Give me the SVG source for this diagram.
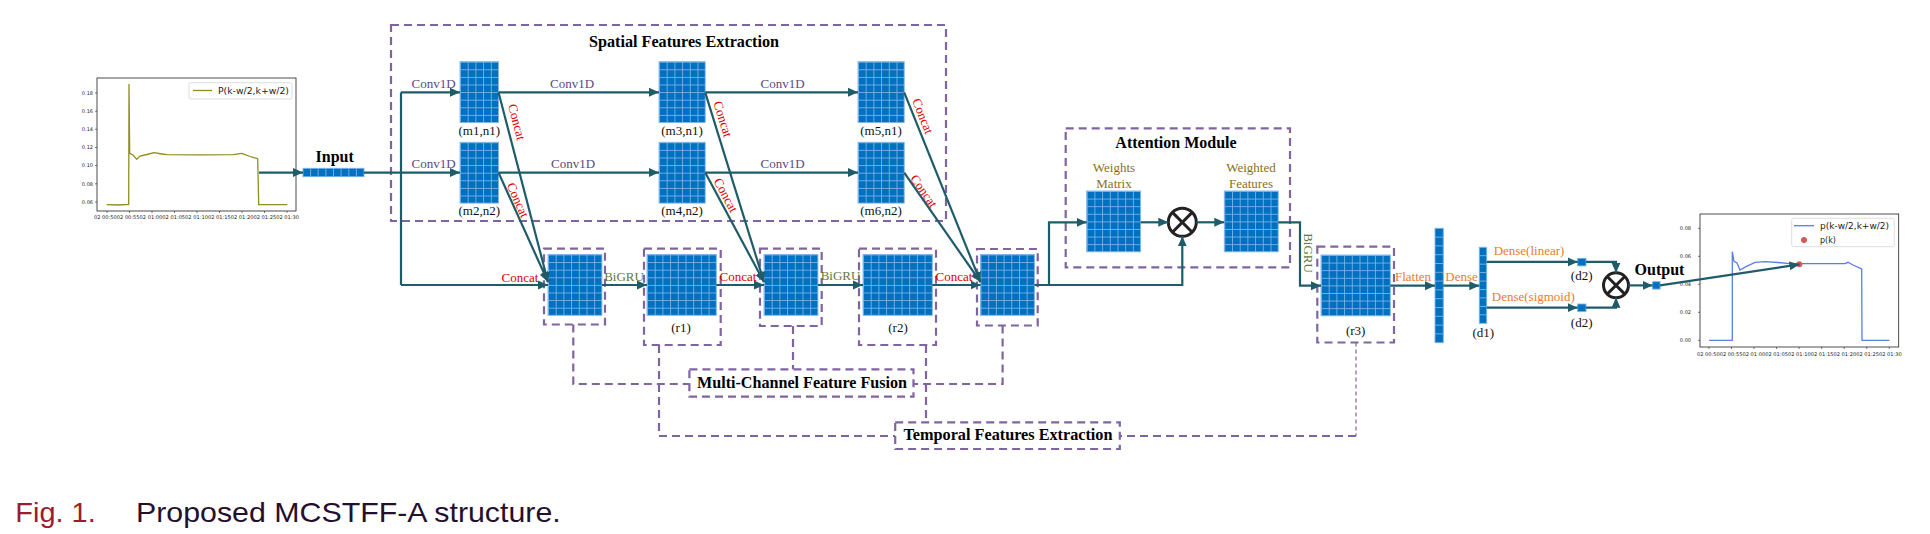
<svg xmlns="http://www.w3.org/2000/svg" width="1930" height="534" viewBox="0 0 1930 534">
<style>
.blk{fill:url(#grid);stroke:#7db4e6;stroke-width:0.9}
.strip{fill:#0070c0;stroke:#7db4e6;stroke-width:0.9}
.sl{stroke:#7db4e6;stroke-width:0.9;fill:none}
.cn{stroke:#1f5c6a;stroke-width:2.2;fill:none}
.ar{marker-end:url(#ah)}
.dsh{stroke:#8064a2;stroke-width:2.2;stroke-dasharray:8 5;fill:none}
.dthin{stroke:#8064a2;stroke-width:1.2;stroke-dasharray:4 3;fill:none}
.t{font-family:"Liberation Serif",serif;font-size:13px}
.b{font-family:"Liberation Serif",serif;font-size:16px;font-weight:bold;fill:#000}
.mid{text-anchor:middle}
.conv{fill:#584a82}
.red{fill:#e00000}
.gru{fill:#647a34}
.org{fill:#ee7b2e}
.gold{fill:#8a6f22}
.blk13{fill:#111}
.tick{font-family:"DejaVu Sans",sans-serif;font-size:5px;fill:#222}
.leg{font-family:"DejaVu Sans",sans-serif;font-size:8px;fill:#222}
.ax{fill:#fff;stroke:#222;stroke-width:0.8}
.tk{stroke:#222;stroke-width:0.6}
.otimes{fill:#fff;stroke:#222;stroke-width:3}
</style>
<defs>
<pattern id="grid" patternUnits="userSpaceOnUse" width="7.7" height="7.6">
<rect width="7.7" height="7.6" fill="#0070c0"/>
<path d="M0,0.45 H7.7 M0.45,0 V7.6" stroke="#7db4e6" stroke-width="0.9"/>
</pattern>
<marker id="ah" markerUnits="userSpaceOnUse" markerWidth="11" markerHeight="10" refX="10" refY="5" orient="auto">
<path d="M0,0.5 L10,5 L0,9.5 Z" fill="#1f5c6a"/>
</marker>
</defs>
<rect width="1930" height="534" fill="#fff"/>

<!-- Input chart -->
<g id="input-chart">
<rect class="ax" x="97" y="78" width="199" height="133"/>
<path class="tk" d="M95,93H97M95,111.2H97M95,129.3H97M95,147.5H97M95,165.6H97M95,183.8H97M95,202H97"/>
<g class="tick" text-anchor="end">
<text x="93" y="94.8">0.18</text><text x="93" y="113">0.16</text><text x="93" y="131.1">0.14</text><text x="93" y="149.3">0.12</text><text x="93" y="167.4">0.10</text><text x="93" y="185.6">0.08</text><text x="93" y="203.8">0.06</text>
</g>
<path class="tk" d="M107,211V213M129.5,211V213M152,211V213M174.5,211V213M197,211V213M219.5,211V213M242,211V213M264.5,211V213M287,211V213"/>
<text class="tick" x="94" y="219" font-size="5.5" textLength="205" lengthAdjust="spacingAndGlyphs">02 00:5002 00:5502 01:0002 01:0502 01:1002 01:1502 01:2002 01:2502 01:30</text>
<path d="M106.7,204.7 L118,205 L128.7,204.5 L129,84 L129.7,153.3 L133,155 L136.7,159.3 L140,156 L147,154.5 L154,152.7 L162,154 L167,154.7 L200,154.9 L233,154.7 L242,153.3 L250,156.5 L257.7,158.7 L258.7,204.7 L287.3,204.7" fill="none" stroke="#8f8e1f" stroke-width="1.3"/>
<rect x="189" y="82.7" width="103" height="16.3" rx="2" fill="#fff" stroke="#d0d0d0" stroke-width="0.7"/>
<path d="M193,90.5H212" stroke="#8f8e1f" stroke-width="1.3"/>
<text class="leg" x="218" y="93.8" textLength="71" lengthAdjust="spacingAndGlyphs">P(k-w/2,k+w/2)</text>
</g>

<g id="input">
<text class="b mid" x="334.7" y="161.7">Input</text>
<rect class="strip" x="303" y="168.3" width="61" height="8.4"/>
<path class="sl" d="M310.6,168.3V176.7M318.2,168.3V176.7M325.9,168.3V176.7M333.5,168.3V176.7M341.1,168.3V176.7M348.8,168.3V176.7M356.4,168.3V176.7"/>
</g>

<!-- Spatial features container -->
<g id="spatial-features">
<rect class="dsh" x="391" y="25" width="555" height="196"/>
<text class="b mid" x="684" y="46.7" textLength="190" lengthAdjust="spacingAndGlyphs">Spatial Features Extraction</text>
</g>

<g id="m1n1"><g transform="translate(460,61.7)"><rect class="blk" width="38.5" height="60.8"/></g><text class="t mid blk13" x="479.3" y="135">(m1,n1)</text></g>
<g id="m2n2"><g transform="translate(460,142.3)"><rect class="blk" width="38.5" height="60.8"/></g><text class="t mid blk13" x="479.3" y="215">(m2,n2)</text></g>
<g id="m3n1"><g transform="translate(659,61.7)"><rect class="blk" width="46.2" height="60.8"/></g><text class="t mid blk13" x="682" y="135">(m3,n1)</text></g>
<g id="m4n2"><g transform="translate(659,142.3)"><rect class="blk" width="46.2" height="60.8"/></g><text class="t mid blk13" x="682" y="215">(m4,n2)</text></g>
<g id="m5n1"><g transform="translate(858,61.7)"><rect class="blk" width="46.2" height="60.8"/></g><text class="t mid blk13" x="881" y="135">(m5,n1)</text></g>
<g id="m6n2"><g transform="translate(858,142.3)"><rect class="blk" width="46.2" height="60.8"/></g><text class="t mid blk13" x="881" y="215">(m6,n2)</text></g>

<g id="concat1"><rect class="dsh" x="544" y="248.7" width="61" height="75.8"/><g transform="translate(548,254.5)"><rect class="blk" width="53.9" height="60.8"/></g></g>
<g id="r1"><rect class="dsh" x="644" y="248.7" width="76.7" height="96.3"/><g transform="translate(647,254.5)"><rect class="blk" width="69.3" height="60.8"/></g><text class="t mid blk13" x="681" y="331.7">(r1)</text></g>
<g id="concat2"><rect class="dsh" x="760" y="248.7" width="61.7" height="77.3"/><g transform="translate(764,254.5)"><rect class="blk" width="53.9" height="60.8"/></g></g>
<g id="r2"><rect class="dsh" x="859" y="248.7" width="77" height="96.3"/><g transform="translate(863,254.5)"><rect class="blk" width="69.3" height="60.8"/></g><text class="t mid blk13" x="898" y="331.7">(r2)</text></g>
<g id="concat3"><rect class="dsh" x="977" y="249" width="60.7" height="76.5"/><g transform="translate(980.5,254.5)"><rect class="blk" width="53.9" height="60.8"/></g></g>

<!-- Attention module -->
<g id="attention-module">
<rect class="dsh" x="1065.7" y="128.3" width="224.3" height="139"/>
<text class="b mid" x="1176" y="148.3">Attention Module</text>
</g>
<g id="weights-matrix"><text class="t mid gold" x="1114" y="172.3">Weights</text><text class="t mid gold" x="1114" y="187.7">Matrix</text><g transform="translate(1086.7,191)"><rect class="blk" width="53.9" height="60.8"/></g></g>
<g id="multiply1"><circle class="otimes" cx="1182.3" cy="222.3" r="14"/><path d="M1172.4,212.4L1192.2,232.2M1192.2,212.4L1172.4,232.2" stroke="#222" stroke-width="3"/></g>
<g id="weighted-features"><text class="t mid gold" x="1251" y="172.3">Weighted</text><text class="t mid gold" x="1251" y="187.7">Features</text><g transform="translate(1224.3,191)"><rect class="blk" width="53.9" height="60.8"/></g></g>

<g id="r3"><rect class="dsh" x="1317.3" y="246.7" width="76.7" height="95.8"/><g transform="translate(1321,255)"><rect class="blk" width="69.3" height="60.8"/></g><text class="t mid blk13" x="1355.7" y="335">(r3)</text></g>

<g id="flatten"><rect class="strip" x="1435" y="228.3" width="8.3" height="114.4"/>
<path class="sl" d="M1435,237.1H1443.3M1435,245.9H1443.3M1435,254.7H1443.3M1435,263.5H1443.3M1435,272.3H1443.3M1435,281.1H1443.3M1435,289.9H1443.3M1435,298.7H1443.3M1435,307.5H1443.3M1435,316.3H1443.3M1435,325.1H1443.3M1435,333.9H1443.3"/></g>
<g id="d1"><rect class="strip" x="1479.3" y="247.3" width="7.4" height="76"/>
<path class="sl" d="M1479.3,255.7H1486.7M1479.3,264.2H1486.7M1479.3,272.6H1486.7M1479.3,281.1H1486.7M1479.3,289.5H1486.7M1479.3,297.9H1486.7M1479.3,306.4H1486.7M1479.3,314.8H1486.7"/>
<text class="t mid blk13" x="1483.3" y="336.7">(d1)</text></g>
<g id="d2-linear"><rect class="strip" x="1577.7" y="258.3" width="8.3" height="7.6"/><text class="t mid blk13" x="1581.7" y="280">(d2)</text></g>
<g id="d2-sigmoid"><rect class="strip" x="1577.7" y="304" width="8.3" height="7.6"/><text class="t mid blk13" x="1581.7" y="326.7">(d2)</text></g>
<g id="multiply2"><circle class="otimes" cx="1616" cy="285.3" r="12.5"/><path d="M1607.2,276.5L1624.8,294.1M1624.8,276.5L1607.2,294.1" stroke="#222" stroke-width="3"/></g>
<g id="output"><text class="b mid" x="1659.5" y="275">Output</text><rect class="strip" x="1652.6" y="281.7" width="7.5" height="7.4"/></g>

<!-- Output chart -->
<g id="output-chart">
<rect class="ax" x="1700" y="214" width="198.7" height="133"/>
<path class="tk" d="M1698,228.3H1700M1698,256.3H1700M1698,284.3H1700M1698,312.3H1700M1698,340.3H1700"/>
<g class="tick" text-anchor="end" font-size="4.6">
<text x="1691" y="229.9">0.08</text><text x="1691" y="257.9">0.06</text><text x="1691" y="285.9">0.04</text><text x="1691" y="313.9">0.02</text><text x="1691" y="341.9">0.00</text>
</g>
<path class="tk" d="M1709,347V349M1731.5,347V349M1754,347V349M1776.6,347V349M1799.1,347V349M1821.7,347V349M1844.2,347V349M1866.8,347V349M1889.3,347V349"/>
<text class="tick" x="1697" y="355.5" font-size="5.5" textLength="204.7" lengthAdjust="spacingAndGlyphs">02 00:5002 00:5502 01:0002 01:0502 01:1002 01:1502 01:2002 01:2502 01:30</text>
<path d="M1709,340.3 L1732.3,340.3 L1732.3,251.7 L1734,261.3 L1737,263 L1740,270 L1746,266.7 L1755,262.3 L1765,261.7 L1778,262.5 L1790,263.7 L1845,263.7 L1848,262.3 L1853,265 L1861.7,269 L1862,340.3 L1889.3,340.3" fill="none" stroke="#5a7ee6" stroke-width="1.3"/>
<circle cx="1799.3" cy="264.3" r="3" fill="#d45a5a"/>
<rect x="1791.7" y="218.3" width="102.6" height="28.4" rx="2" fill="#fff" stroke="#d0d0d0" stroke-width="0.7"/>
<path d="M1794,225.7H1814" stroke="#5a7ee6" stroke-width="1.3"/>
<circle cx="1804" cy="240" r="3" fill="#d45a5a"/>
<text class="leg" x="1820" y="228.5" textLength="69" lengthAdjust="spacingAndGlyphs">p(k-w/2,k+w/2)</text>
<text class="leg" x="1820" y="243">p(k)</text>
</g>

<!-- Feature fusion / temporal labels -->
<g id="multi-channel-feature-fusion"><rect class="dsh" x="689.4" y="369.3" width="224.1" height="27.4"/><text class="b mid" x="802" y="388.3" textLength="210" lengthAdjust="spacingAndGlyphs">Multi-Channel Feature Fusion</text></g>
<g id="temporal-features-extraction"><rect class="dsh" x="895.2" y="422.3" width="224.6" height="26.7"/><text class="b mid" x="1008" y="440" textLength="209" lengthAdjust="spacingAndGlyphs">Temporal Features Extraction</text></g>

<!-- Connectors -->
<g id="connectors">
<path class="cn ar" d="M259,172.6H303"/>
<path class="cn ar" d="M364,172.6H460"/>
<path class="cn" d="M401,92.3V285"/>
<path class="cn ar" d="M401,92.3H460"/>
<path class="cn ar" d="M401,285H548"/>
<path class="cn ar" d="M498.5,92.3H659"/>
<path class="cn ar" d="M705.2,92.3H858"/>
<path class="cn ar" d="M498.5,172.6H659"/>
<path class="cn ar" d="M705.2,172.6H858"/>
<path class="cn ar" d="M498.5,92.3L548,282"/>
<path class="cn ar" d="M498.5,172.6L548,282"/>
<path class="cn ar" d="M705.2,92.3L764,282"/>
<path class="cn ar" d="M705.2,172.6L764,282"/>
<path class="cn ar" d="M904.2,92.3L980.5,282"/>
<path class="cn ar" d="M904.2,172.6L980.5,282"/>
<path class="cn ar" d="M601.9,285H647"/>
<path class="cn ar" d="M716.3,285H764"/>
<path class="cn ar" d="M817.9,285H863"/>
<path class="cn ar" d="M932.3,285H980.5"/>
<path class="cn ar" d="M1034.4,285H1182.3V236.3"/>
<path class="cn ar" d="M1049,285V222.3H1086.7"/>
<path class="cn ar" d="M1140.6,222.3H1168.3"/>
<path class="cn ar" d="M1196.3,222.3H1224.3"/>
<path class="cn ar" d="M1278.2,222.3H1300V285.7H1321"/>
<path class="cn ar" d="M1390.3,285.7H1435"/>
<path class="cn ar" d="M1443.3,285.7H1479.3"/>
<path class="cn ar" d="M1486.7,261.9H1577.7"/>
<path class="cn ar" d="M1486.7,307.7H1577.7"/>
<path class="cn ar" d="M1586,261.9H1616V272.8"/>
<path class="cn ar" d="M1586,307.7H1616V297.8"/>
<path class="cn ar" d="M1628.5,285.4H1652.6"/>
<path class="cn ar" d="M1660.1,285.4L1799.5,264.4"/>
<path class="dsh" d="M573.3,324.5V384H689.4"/>
<path class="dsh" d="M659,345V436H895.2"/>
<path class="dsh" d="M793,326V369.3"/>
<path class="dsh" d="M926,345V422.3"/>
<path class="dsh" d="M1002.6,325.5V384H913.5"/>
<path class="dthin" d="M1356,342.5V436"/>
<path class="dsh" d="M1356,436H1119.8"/>
<!-- connector labels -->
<text class="t mid conv" x="433.5" y="87.7">Conv1D</text>
<text class="t mid conv" x="572" y="87.7">Conv1D</text>
<text class="t mid conv" x="782.5" y="87.7">Conv1D</text>
<text class="t mid conv" x="433.5" y="167.7">Conv1D</text>
<text class="t mid conv" x="573" y="167.7">Conv1D</text>
<text class="t mid conv" x="782.5" y="167.7">Conv1D</text>
<text class="t mid red" transform="translate(517,122) rotate(75.5)" y="4.5">Concat</text>
<text class="t mid red" transform="translate(518,200) rotate(65.9)" y="4.5">Concat</text>
<text class="t mid red" transform="translate(723,119) rotate(72.7)" y="4.5">Concat</text>
<text class="t mid red" transform="translate(726,195) rotate(61.7)" y="4.5">Concat</text>
<text class="t mid red" transform="translate(923,116) rotate(68.2)" y="4.5">Concat</text>
<text class="t mid red" transform="translate(924,191) rotate(55.2)" y="4.5">Concat</text>
<text class="t mid red" x="520" y="281.5">Concat</text>
<text class="t mid red" x="738" y="281">Concat</text>
<text class="t mid red" x="954" y="280.5">Concat</text>
<text class="t mid gru" x="624" y="280.7">BiGRU</text>
<text class="t mid gru" x="840.5" y="280.3">BiGRU</text>
<text class="t mid gru" transform="translate(1308,253) rotate(90)" y="4.5">BiGRU</text>
<text class="t mid org" x="1413" y="280.7">Flatten</text>
<text class="t mid org" x="1461.5" y="280.7">Dense</text>
<text class="t mid org" x="1529" y="255">Dense(linear)</text>
<text class="t mid org" x="1533.3" y="301">Dense(sigmoid)</text>
</g>

<!-- Caption -->
<text x="15.3" y="521.7" font-family="'Liberation Sans',sans-serif" font-size="28" fill="#9b1b30" textLength="80.4" lengthAdjust="spacingAndGlyphs">Fig. 1.</text>
<text x="136" y="521.7" font-family="'Liberation Sans',sans-serif" font-size="28" fill="#24102e" textLength="424.7" lengthAdjust="spacingAndGlyphs">Proposed MCSTFF-A structure.</text>
</svg>
